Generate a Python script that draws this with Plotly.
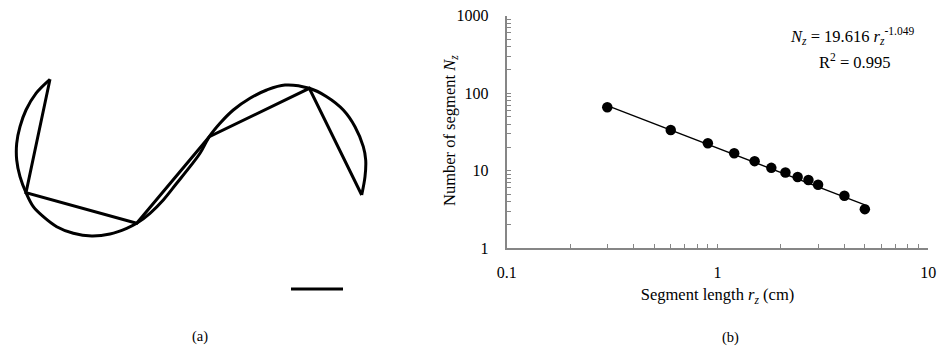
import plotly.graph_objects as go

# ---------------- data: panel (b) ----------------
seg_length = [0.3, 0.6, 0.9, 1.2, 1.5, 1.8, 2.1, 2.4, 2.7, 3.0, 4.0, 5.0]
seg_count = [66, 33.5, 22.6, 16.8, 13.3, 10.9, 9.5, 8.3, 7.6, 6.6, 4.76, 3.2]
trend_x = [0.3, 5.0]
trend_y = [69.3, 3.63]
x_tickvals = [0.1, 1, 10]
x_ticktext = ["0.1", "1", "10"]
y_tickvals = [1, 10, 100, 1000]
y_ticktext = ["1", "10", "100", "1000"]

# ---------------- data: panel (a) drawing (drawing units) ----------------
curve_x = [50, 36, 26, 20, 16.7, 16.7, 20, 26, 33.3, 43.3, 56.7, 73.3, 91.7, 110, 126.7,
           136.7, 150, 163.3, 176.7, 190, 200, 209.3, 220, 233.3, 250, 266.7, 285, 309.3,
           326.7, 343.3, 355, 363.3, 365.7, 365, 361.7]
curve_y = [79.3, 93.3, 110, 126.7, 143.3, 160, 176.7, 192.7, 206.7, 216.7, 226.7, 233.3,
           236, 234, 228.3, 223.3, 213.3, 200, 183.3, 166.7, 153.3, 136.7, 123.3, 110, 98.3,
           90, 85, 88.3, 96.7, 110, 126.7, 146.7, 160, 176.7, 195]
chord_x = [50, 26, 136.7, 209.3, 309.3, 361.7]
chord_y = [79.3, 192.7, 223.3, 136.7, 88.3, 195]
scalebar_x = [291, 343]
scalebar_y = [289, 289]

W, H = 945, 353
FONT = "Liberation Serif"
AXC = "#868686"

fig = go.Figure()

# panel (a)
fig.add_trace(go.Scatter(x=curve_x, y=curve_y, mode="lines",
                         line=dict(color="black", width=3, shape="spline", smoothing=1.0),
                         xaxis="x2", yaxis="y2", showlegend=False, hoverinfo="skip"))
fig.add_trace(go.Scatter(x=chord_x, y=chord_y, mode="lines",
                         line=dict(color="black", width=3),
                         xaxis="x2", yaxis="y2", showlegend=False, hoverinfo="skip"))
fig.add_trace(go.Scatter(x=scalebar_x, y=scalebar_y, mode="lines",
                         line=dict(color="black", width=3),
                         xaxis="x2", yaxis="y2", showlegend=False, hoverinfo="skip"))

# panel (b)
fig.add_trace(go.Scatter(x=trend_x, y=trend_y, mode="lines",
                         line=dict(color="black", width=1.3),
                         showlegend=False))
fig.add_trace(go.Scatter(x=seg_length, y=seg_count, mode="markers",
                         marker=dict(color="black", size=10.5),
                         showlegend=False))

x0, x1 = 506.7, 928.3
yt, yb = 15.7, 248.3

fig.update_layout(
    width=W, height=H,
    margin=dict(l=0, r=0, t=0, b=0, autoexpand=False),
    paper_bgcolor="white", plot_bgcolor="white",
    font=dict(family=FONT, size=16, color="black"),
    xaxis=dict(
        type="log", range=[-1, 1], domain=[x0 / W, x1 / W], automargin=False,
        tickvals=x_tickvals, ticktext=x_ticktext,
        showline=True, linecolor=AXC, linewidth=2,
        ticks="inside", ticklen=4, tickcolor=AXC, tickwidth=1,
        minor=dict(ticks="inside", ticklen=4, tickcolor=AXC, tickwidth=1,
                   tickvals=[v * d for d in [0.1, 1] for v in range(2, 10)]),
        showgrid=False, zeroline=False, anchor="y",
        ticklabelstandoff=8,
        title=dict(text="Segment length <i>r</i><sub><i>z</i></sub> (cm)",
                   font=dict(size=16.5), standoff=9),
    ),
    yaxis=dict(
        type="log", range=[0, 3], domain=[1 - yb / H, 1 - yt / H], automargin=False,
        tickvals=y_tickvals, ticktext=y_ticktext,
        showline=True, linecolor=AXC, linewidth=2,
        ticks="inside", ticklen=4, tickcolor=AXC, tickwidth=1,
        minor=dict(ticks="inside", ticklen=4, tickcolor=AXC, tickwidth=1,
                   tickvals=[v * d for d in [1, 10, 100] for v in range(2, 10)]),
        showgrid=False, zeroline=False, anchor="x",
        ticklabelstandoff=13,
    ),
    xaxis2=dict(domain=[0, 400 / W], range=[0, 400], visible=False, anchor="y2"),
    yaxis2=dict(domain=[0, 1], range=[H, 0], visible=False, anchor="x2"),
    annotations=[
        dict(text="Number of segment <i>N</i><sub><i>z</i></sub>", textangle=-90,
             xref="paper", yref="paper", x=450 / W, y=1 - 131 / H, showarrow=False,
             font=dict(size=16.5), xanchor="center", yanchor="middle"),
        dict(text="<i>N</i><sub><i>z</i></sub> = 19.616 <i>r</i><sub><i>z</i></sub><sup>-1.049</sup>",
             xref="paper", yref="paper", x=852 / W, y=1 - 36 / H, showarrow=False,
             font=dict(size=16.5), xanchor="center", yanchor="middle"),
        dict(text="R<sup>2</sup> = 0.995",
             xref="paper", yref="paper", x=854 / W, y=1 - 61 / H, showarrow=False,
             font=dict(size=16.5), xanchor="center", yanchor="middle"),
        dict(text="(a)", xref="paper", yref="paper", x=200 / W, y=1 - 336 / H,
             showarrow=False, font=dict(size=14.5), xanchor="center", yanchor="middle"),
        dict(text="(b)", xref="paper", yref="paper", x=730 / W, y=1 - 337 / H,
             showarrow=False, font=dict(size=14.5), xanchor="center", yanchor="middle"),
    ],
)

fig.write_html("out.html", config={"displayModeBar": False},
               post_script="document.body.style.margin='0';")
